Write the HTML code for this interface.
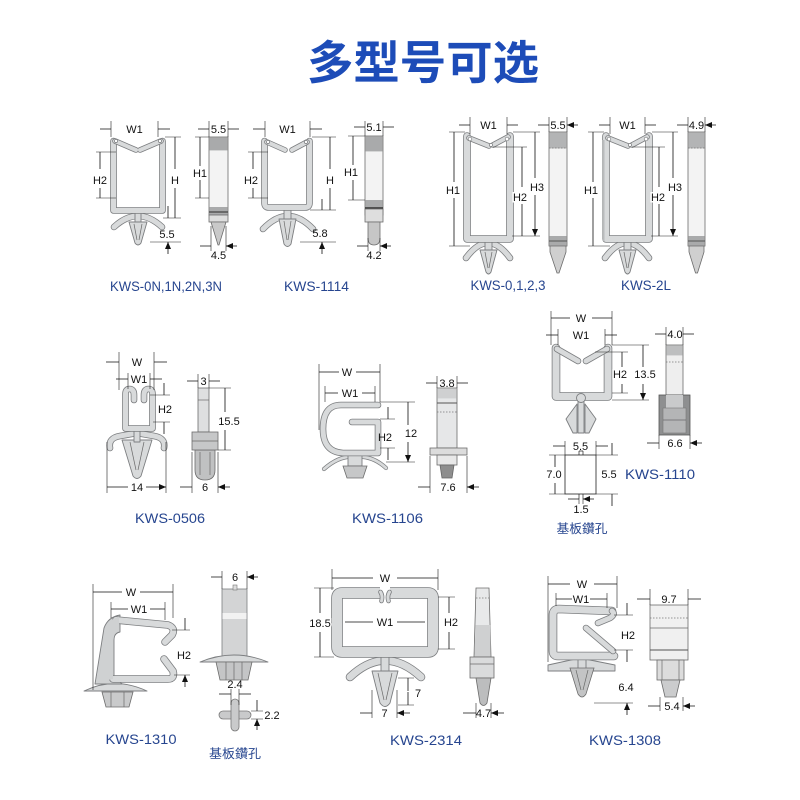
<!DOCTYPE html>
<html><head><meta charset="utf-8"><style>
html,body{margin:0;padding:0;background:#fff;}
svg{display:block}
.o{fill:none;stroke:#7c7e80;stroke-linejoin:round;stroke-linecap:round}
.f{fill:none;stroke:#d8dadb;stroke-linejoin:round;stroke-linecap:round}
.pf{fill:#d8dadb;stroke:#7c7e80;stroke-width:.9;stroke-linejoin:round}
.d{fill:none;stroke:#111;stroke-width:.8;marker-end:url(#m)}
.e{fill:none;stroke:#222;stroke-width:.6}
.t{font-family:"Liberation Sans",sans-serif;font-size:11px;fill:#111;text-anchor:middle}
.tw{paint-order:stroke;stroke:#fff;stroke-width:3px}
.lab{font-family:"Liberation Sans","Noto Sans CJK SC",sans-serif;font-size:14px;fill:#26458f;text-anchor:middle}
.ln{stroke:#6a6a6a;stroke-width:.7;fill:none}
.dot{stroke:#777;stroke-width:.7;stroke-dasharray:1.5 1.5;fill:none}
.sv{fill:#f3f3f3;stroke:#6c6c6c;stroke-width:.8}
</style></head><body>
<svg width="800" height="800" viewBox="0 0 800 800" xmlns="http://www.w3.org/2000/svg">
<defs>
<marker id="m" markerUnits="userSpaceOnUse" markerWidth="7" markerHeight="6" refX="7" refY="3" orient="auto"><path d="M0,0L7,3L0,6z" fill="#111"/></marker>
</defs>
<rect width="800" height="800" fill="#fff"/>

<!-- Title -->
<text x="423" y="79" style="font-family:'Noto Sans CJK SC','WenQuanYi Zen Hei',sans-serif;font-weight:bold;font-size:46px;fill:#1d4cb8;text-anchor:middle" textLength="232" lengthAdjust="spacingAndGlyphs">多型号可选</text>

<!-- ============ ROW 1 ============ -->
<!-- KWS-0N -->
<path class="o" stroke-width="6.6" d="M114,227Q138,205 162,227"/><path class="f" stroke-width="5" d="M114,227Q138,205 162,227"/>
<rect class="pf" x="135" y="211" width="6" height="12"/>
<path class="pf" d="M129,222L135,243Q138,247 141,243L147,222Z"/>
<path class="ln" d="M134,224L137,240M142,224L139,240"/>
<path class="o" stroke-width="6.6" d="M113.5,141V210.5H162.5V141"/><path class="f" stroke-width="5" d="M113.5,141V210.5H162.5V141"/>
<path class="o" stroke-width="5.6" d="M115,141L136,150M161,141L140,150"/><path class="f" stroke-width="4" d="M115,141L136,150M161,141L140,150"/>
<circle cx="116" cy="141" r="1.6" fill="#fff" stroke="#7c7e80" stroke-width=".7"/><circle cx="160" cy="141" r="1.6" fill="#fff" stroke="#7c7e80" stroke-width=".7"/>
<path class="e" d="M111,121V137M158,121V137M96,152H116M96,198H116M165,137H181M163,218H181M150,242H181"/>
<path class="d" d="M100,129H111M170,129H158M100,169V152M100,188V198M175,169V137M175,188V218M168,206V218M168,254V242"/>
<text class="t" x="134.5" y="133">W1</text><text class="t" x="100" y="184">H2</text><text class="t" x="175" y="184">H</text><text class="t" x="167" y="238">5.5</text>
<!-- side -->
<rect class="sv" x="209" y="137" width="19" height="78"/>
<rect x="209.4" y="137.4" width="18.2" height="13" fill="#a9aaab"/>
<rect x="209.4" y="207" width="18.2" height="8" fill="#a9aaab"/>
<path d="M209,212H228" stroke="#444" stroke-width="1.2"/>
<rect x="209" y="215" width="19" height="7" fill="#dedede" stroke="#6c6c6c" stroke-width=".8"/>
<path d="M211,222H226L219,245H218Z" fill="#c9c9c9" stroke="#6c6c6c" stroke-width=".8"/>
<path class="e" d="M209,121V137M228,121V137M195,137H209M195,198H209M211,226V251M226,226V251"/>
<path class="d" d="M198,129H209M239,129H228M200,166V137M200,180V198M200,246H211M237,246H226"/>
<text class="t" x="218.5" y="133">5.5</text><text class="t" x="200" y="177">H1</text><text class="t" x="218.5" y="259">4.5</text>

<!-- KWS-1114 -->
<path class="o" stroke-width="6.6" d="M263,229Q288,203 313,229"/><path class="f" stroke-width="5" d="M263,229Q288,203 313,229"/>
<rect class="pf" x="284" y="208" width="7" height="12"/>
<path class="pf" d="M279,219L284,244Q287.5,249 291,244L296,219Z"/>
<path class="ln" d="M284,221L287,240M291,221L288,240"/>
<path class="o" stroke-width="6.6" d="M264.5,141V203Q264.5,207.5 269,207.5H305Q309.5,207.5 309.5,203V141"/><path class="f" stroke-width="5" d="M264.5,141V203Q264.5,207.5 269,207.5H305Q309.5,207.5 309.5,203V141"/>
<path class="o" stroke-width="5.6" d="M267,142L285,150M307,142L292,150"/><path class="f" stroke-width="4" d="M267,142L285,150M307,142L292,150"/>
<circle cx="268" cy="142" r="1.6" fill="#fff" stroke="#7c7e80" stroke-width=".7"/><circle cx="306" cy="142" r="1.6" fill="#fff" stroke="#7c7e80" stroke-width=".7"/>
<path class="e" d="M265,121V137M310,121V137M248,152H268M248,198H268M312,137H336M310,210H336M300,242H336"/>
<path class="d" d="M253,129H265M322,129H310M253,169V152M253,188V198M330,169V137M330,188V210M322,199V210M322,254V242"/>
<text class="t" x="287.5" y="133">W1</text><text class="t" x="251" y="184">H2</text><text class="t" x="330" y="184">H</text><text class="t" x="320" y="237">5.8</text>
<!-- side -->
<rect class="sv" x="365" y="136" width="18" height="79"/>
<rect x="365.4" y="136.4" width="17.2" height="15" fill="#a9aaab"/>
<rect x="365.4" y="200" width="17.2" height="8" fill="#a9aaab"/>
<path d="M365,208H383" stroke="#333" stroke-width="1.4"/>
<rect x="365" y="209" width="18" height="13" fill="#dedede" stroke="#6c6c6c" stroke-width=".8"/>
<path d="M368,222V238Q368,245 374,245Q380,245 380,238V222Z" fill="#c6c6c6" stroke="#6c6c6c" stroke-width=".8"/>
<path class="e" d="M365,121V136M383,121V136M348,136H365M348,200H365M368,238V251M380,238V251"/>
<path class="d" d="M354,127H365M394,127H383M353,165V136M353,180V200M357,246H368M391,246H380"/>
<text class="t" x="374" y="131">5.1</text><text class="t" x="351" y="176">H1</text><text class="t" x="374" y="259">4.2</text>

<!-- KWS-0,1,2,3 -->
<path class="o" stroke-width="6.6" d="M466,258Q488,228 510,258"/><path class="f" stroke-width="5" d="M466,258Q488,228 510,258"/>
<rect class="pf" x="485" y="241" width="7" height="11"/>
<path class="pf" d="M480,250L486,272Q488.5,276 491,272L497,250Z"/>
<path class="ln" d="M485,252L488,268M492,252L489,268"/>
<path class="o" stroke-width="7.6" d="M467,136V239H510V136"/><path class="f" stroke-width="6" d="M467,136V239H510V136"/>
<path class="o" stroke-width="5.6" d="M469,138L489,146M508,137L493,145"/><path class="f" stroke-width="4" d="M469,138L489,146M508,137L493,145"/>
<circle cx="470" cy="139" r="1.8" fill="#fff" stroke="#7c7e80" stroke-width=".7"/><circle cx="507" cy="139" r="1.8" fill="#fff" stroke="#7c7e80" stroke-width=".7"/><circle cx="491" cy="145" r="1.6" fill="#fff" stroke="#7c7e80" stroke-width=".7"/>
<path class="e" d="M470,117V134M507,117V134M449,132H465M449,246H470M493,147H527M513,132H540M512,236H540"/>
<path class="d" d="M459,125H470M518,125H507M454,182V132M454,198V246M522,187V147M522,204V236M535,178V132M535,195V236"/>
<text class="t" x="488.5" y="129">W1</text><text class="t" x="453" y="194">H1</text><text class="t tw" x="520" y="201">H2</text><text class="t tw" x="537" y="191">H3</text>
<rect class="sv" x="549" y="132" width="18" height="114"/>
<rect x="549.4" y="132.4" width="17.2" height="16" fill="#b3b4b5"/>
<path class="dot" d="M549,148H567"/>
<rect x="549.4" y="236" width="17.2" height="10" fill="#a9aaab"/>
<path d="M549,241H567" stroke="#555" stroke-width="1"/>
<path d="M550,246V252L557,273H559L566,252V246Z" fill="#cfcfcf" stroke="#6c6c6c" stroke-width=".8"/>
<path class="e" d="M549,117V132M567,117V132"/>
<path class="d" d="M538,125H549M578,125H567"/>
<text class="t" x="558" y="129">5.5</text>

<!-- KWS-2L -->
<path class="o" stroke-width="6.6" d="M605,258Q627,228 649,258"/><path class="f" stroke-width="5" d="M605,258Q627,228 649,258"/>
<rect class="pf" x="624" y="241" width="7" height="11"/>
<path class="pf" d="M619,250L625,272Q627.5,276 630,272L636,250Z"/>
<path class="ln" d="M624,252L627,268M631,252L628,268"/>
<path class="o" stroke-width="7.6" d="M606,136V239H649V136"/><path class="f" stroke-width="6" d="M606,136V239H649V136"/>
<path d="M603.5,140V241" stroke="#b9bbbc" stroke-width="2"/>
<path class="o" stroke-width="5.6" d="M608,138L628,146M647,137L632,145"/><path class="f" stroke-width="4" d="M608,138L628,146M647,137L632,145"/>
<circle cx="609" cy="139" r="1.8" fill="#fff" stroke="#7c7e80" stroke-width=".7"/><circle cx="646" cy="139" r="1.8" fill="#fff" stroke="#7c7e80" stroke-width=".7"/><circle cx="630" cy="145" r="1.6" fill="#fff" stroke="#7c7e80" stroke-width=".7"/>
<path class="e" d="M610,117V134M645,117V134M588,132H604M588,246H610M632,147H665M652,132H678M651,236H678"/>
<path class="d" d="M599,125H610M656,125H645M593,182V132M593,198V246M659,187V147M659,204V236M673,178V132M673,195V236"/>
<text class="t" x="627.5" y="129">W1</text><text class="t" x="591" y="194">H1</text><text class="t tw" x="658" y="201">H2</text><text class="t tw" x="675" y="191">H3</text>
<rect class="sv" x="688" y="132" width="17" height="114"/>
<rect x="688.4" y="132.4" width="16.2" height="16" fill="#b3b4b5"/>
<path class="dot" d="M688,148H705"/>
<rect x="688.4" y="236" width="16.2" height="10" fill="#a9aaab"/>
<path d="M688,241H705" stroke="#555" stroke-width="1"/>
<path d="M689,246V252L695.5,273H697.5L704,252V246Z" fill="#cfcfcf" stroke="#6c6c6c" stroke-width=".8"/>
<path class="e" d="M688,117V132M705,117V132"/>
<path class="d" d="M677,125H688M716,125H705"/>
<text class="t" x="696.5" y="129">4.9</text>

<text class="lab" x="166" y="291" textLength="112" lengthAdjust="spacingAndGlyphs">KWS-0N,1N,2N,3N</text>
<text class="lab" x="316.5" y="291" textLength="65" lengthAdjust="spacingAndGlyphs">KWS-1114</text>
<text class="lab" x="508" y="290" textLength="75" lengthAdjust="spacingAndGlyphs">KWS-0,1,2,3</text>
<text class="lab" x="646" y="290" textLength="50" lengthAdjust="spacingAndGlyphs">KWS-2L</text>

<!-- ============ ROW 2 ============ -->
<!-- KWS-0506 -->
<path class="o" stroke-width="6.6" d="M110,448Q108,438 120,436L137,433L154,436Q166,438 164,448"/><path class="f" stroke-width="5" d="M110,448Q108,438 120,436L137,433L154,436Q166,438 164,448"/>
<path class="pf" d="M122,440L133,476Q137,481 141,476L152,440Z"/>
<path class="ln" d="M130,442L136,470M144,442L138,470"/>
<rect class="pf" x="134" y="426" width="6" height="16"/>
<path class="o" stroke-width="6.6" d="M134,400V395Q134,389 129.5,389Q125.5,389 125.5,394V428.5H152.5V394Q152.5,389 148.5,389Q144,389 144,395V400"/><path class="f" stroke-width="5" d="M134,400V395Q134,389 129.5,389Q125.5,389 125.5,394V428.5H152.5V394Q152.5,389 148.5,389Q144,389 144,395V400"/>
<path class="e" d="M119,352V390M154,352V390M128,373V389M150,373V389M150,395H170M153,422H170M107,442V493M166,442V493"/>
<path class="d" d="M106,362H119M167,362H154M116,379H128M162,379H150M164,383V395M164,434V422M128,487H107M146,487H166"/>
<text class="t" x="137" y="366">W</text><text class="t" x="139" y="383">W1</text><text class="t" x="165" y="413">H2</text><text class="t" x="137" y="491">14</text>
<rect x="198" y="388" width="11" height="44" fill="#dedfe0" stroke="#6c6c6c" stroke-width=".8"/>
<path class="ln" d="M198,400H209"/>
<path d="M195,450V470Q195,480 205,480Q215,480 215,470V450Z" fill="#c0c1c2" stroke="#6c6c6c" stroke-width=".8"/>
<path class="ln" d="M200,452V475M210,452V475"/>
<rect x="192" y="432" width="26" height="18" fill="#c6c7c8" stroke="#6c6c6c" stroke-width=".8"/>
<path class="ln" d="M192,441H218"/>
<path class="e" d="M198,374V388M209,374V388M209,388H231M218,450H231M192,452V493M218,452V493"/>
<path class="d" d="M187,381H198M220,381H209M225,412V388M225,430V450M180,487H192M230,487H218"/>
<text class="t" x="203.5" y="385">3</text><text class="t tw" x="229" y="425">15.5</text><text class="t" x="205" y="491">6</text>

<!-- KWS-1106 -->
<path class="o" stroke-width="4.2" d="M324,469Q340,455 355,457Q372,455 386,468"/><path class="f" stroke-width="2.8" d="M324,469Q340,455 355,457Q372,455 386,468"/>
<rect class="pf" x="348" y="455" width="14" height="11"/>
<path d="M343,466H367L363,478H347Z" fill="#c6c7c8" stroke="#6c6c6c" stroke-width=".8"/>
<path class="o" stroke-width="6.6" d="M378,405H341Q323,405 323,429Q323,452 343,453H378V422H352"/><path class="f" stroke-width="5" d="M378,405H341Q323,405 323,429Q323,452 343,453H378V422H352"/>
<path class="e" d="M319,364V430M380,364V402M325,386V402M375,386V402M380,419H395M380,448H395M380,402H415M386,462H415"/>
<path class="d" d="M339,372H319M356,372H380M338,393H325M362,393H375M388,407V419M388,460V448M408,425V402M408,442V462"/>
<text class="t" x="347" y="376">W</text><text class="t" x="350" y="397">W1</text><text class="t" x="385" y="441">H2</text><text class="t" x="411" y="437">12</text>
<rect x="437" y="388" width="20" height="60" fill="#e6e7e8" stroke="#6c6c6c" stroke-width=".8"/>
<rect x="437.4" y="388.4" width="19.2" height="10" fill="#cfd0d1"/>
<path d="M437,403H457" stroke="#555" stroke-width="1"/><path class="dot" d="M437,412H457"/>
<rect x="430" y="448" width="37" height="7" fill="#dcdcdc" stroke="#6c6c6c" stroke-width=".8"/>
<rect x="437" y="455" width="20" height="10" fill="#e8e8e8" stroke="#6c6c6c" stroke-width=".8"/>
<path d="M440,465H454L452,478H442Z" fill="#8e8e8e" stroke="#666" stroke-width=".8"/>
<path class="e" d="M437,376V388M457,376V388M430,456V493M467,456V493"/>
<path class="d" d="M426,383H437M468,383H457M418,487H430M479,487H467"/>
<text class="t" x="447" y="387">3.8</text><text class="t" x="448" y="491">7.6</text>

<!-- KWS-1110 -->
<path class="pf" d="M577,404L566,419L573,433L577,433Z"/>
<path class="pf" d="M585,404L596,419L589,433L585,433Z"/>
<path class="o" stroke-width="8.6" d="M556,348V396.5H608V348"/><path class="f" stroke-width="7" d="M556,348V396.5H608V348"/>
<path class="o" stroke-width="6.6" d="M557,349L578,361M607,349L586,361"/><path class="f" stroke-width="5" d="M557,349L578,361M607,349L586,361"/>
<rect class="pf" x="578" y="400" width="6" height="33"/>
<circle class="pf" cx="581" cy="398" r="4.5"/>
<path class="e" d="M551,311V345M612,311V345M558,329V345M605,329V345M595,352H628M612,393H628M612,345H649M612,400H649"/>
<path class="d" d="M570,318H551M592,318H612M546,335H558M617,335H605M622,367V352M622,384V393M643,367V345M643,384V400"/>
<text class="t" x="581" y="322">W</text><text class="t" x="581" y="339">W1</text><text class="t tw" x="620" y="378">H2</text><text class="t tw" x="645" y="378">13.5</text>
<rect x="666" y="345" width="17" height="50" fill="#eeeeee" stroke="#6c6c6c" stroke-width=".8"/>
<rect x="666.4" y="345.4" width="16.2" height="10" fill="#bdbebf"/>
<path class="dot" d="M666,362H683"/>
<rect x="659" y="395" width="31" height="40" fill="#8e8f90" stroke="#555" stroke-width=".8"/>
<rect x="666" y="395" width="17" height="13" fill="#c9cacb"/>
<rect x="663" y="408" width="23" height="25" fill="#b4b5b6" stroke="#777" stroke-width=".6"/>
<path class="ln" d="M663,420H686"/>
<path class="e" d="M666,327V345M683,327V345M659,435V449M690,435V449"/>
<path class="d" d="M655,334H666M694,334H683M647,443H659M702,443H690"/>
<text class="t" x="675" y="338">4.0</text><text class="t" x="675" y="447">6.6</text>
<!-- hole -->
<rect x="565" y="455" width="31" height="39" fill="#fff" stroke="#222" stroke-width=".8"/>
<path d="M579,451V455M583,451V455M579,451H583M579,494V499M583,494V499" stroke="#222" stroke-width=".7" fill="none"/>
<path class="e" d="M565,441V455M596,441V455M549,455H565M549,494H565M596,455H618M596,494H618M579,499V504M583,499V504"/>
<path class="d" d="M553,446H565M608,446H596M555,467V455M555,483V494M612,443V455M612,506V494M568,499H579M594,499H583"/>
<text class="t" x="580.5" y="450">5.5</text><text class="t tw" x="554" y="478">7.0</text><text class="t" x="609" y="478">5.5</text><text class="t" x="581" y="513">1.5</text>
<text class="lab" x="660" y="479" textLength="70" lengthAdjust="spacingAndGlyphs">KWS-1110</text>
<text class="lab" x="582" y="533" style="font-size:12.5px" textLength="51" lengthAdjust="spacingAndGlyphs">基板鑽孔</text>

<text class="lab" x="170" y="523" textLength="70" lengthAdjust="spacingAndGlyphs">KWS-0506</text>
<text class="lab" x="387.5" y="523" textLength="71" lengthAdjust="spacingAndGlyphs">KWS-1106</text>

<!-- ============ ROW 3 ============ -->
<!-- KWS-1310 -->
<path class="pf" d="M84,691Q115,676 147,691Z"/>
<path d="M102,692H133L129,707H106Z" fill="#c9cacb" stroke="#6c6c6c" stroke-width=".8"/>
<path class="ln" d="M111,692V707M124,692V707"/>
<path class="pf" d="M95,684L104,628Q108,617 120,615L120,632Q114,633 114,640L114,676L122,684Z" style="fill:#cfd1d2"/>
<path class="o" stroke-width="7.6" d="M116,620L168,625Q176,628 172,635L165,642"/><path class="f" stroke-width="6" d="M116,620L168,625Q176,628 172,635L165,642"/>
<path class="o" stroke-width="7.6" d="M113,679H168Q175,679 173,671L164,659"/><path class="f" stroke-width="6" d="M113,679H168Q175,679 173,671L164,659"/>
<path d="M96,682L105,628Q109,619 119,617L119,631Q113,632 113,640L113,679Z" fill="#cfd1d2"/>
<path class="e" d="M93,584V690M173,584V618M111,602V618M165,602V620M172,630H190M174,675H190"/>
<path class="d" d="M122,592H93M140,592H173M128,609H111M150,609H165M185,618V630M185,687V675"/>
<text class="t" x="131" y="596">W</text><text class="t" x="139" y="613">W1</text><text class="t" x="184" y="659">H2</text>
<rect x="222" y="589" width="25" height="68" fill="#d3d4d5" stroke="#7c7e80" stroke-width=".8"/>
<rect x="222.4" y="613" width="24.2" height="6" fill="#f2f2f2"/>
<rect x="233" y="585" width="4" height="5" fill="#ddd" stroke="#777" stroke-width=".6"/>
<path class="pf" d="M200,662Q234,648 268,662Z"/>
<path d="M216,662H252L248,680H220Z" fill="#c4c5c6" stroke="#6c6c6c" stroke-width=".8"/>
<path class="ln" d="M226,662V680M234,662V680M242,662V680"/>
<path class="e" d="M222,571V589M247,571V589"/>
<path class="d" d="M211,577H222M258,577H247"/>
<text class="t" x="235" y="581">6</text>
<rect x="219" y="711" width="32" height="8" rx="4" fill="#c9cacb" stroke="#777" stroke-width=".8"/>
<rect x="231" y="699" width="8" height="32" rx="4" fill="#c9cacb" stroke="#777" stroke-width=".8"/>
<rect x="231.5" y="711.5" width="7" height="7" fill="#c9cacb"/>
<path class="e" d="M231,689V705M239,689V705M251,711H263M251,719H263"/>
<path class="d" d="M219,694H231M251,694H239M257,700V711M257,730V719"/>
<text class="t" x="235" y="688">2.4</text><text class="t" x="272" y="719">2.2</text>
<text class="lab" x="141" y="744" textLength="71" lengthAdjust="spacingAndGlyphs">KWS-1310</text>
<text class="lab" x="235" y="758" style="font-size:12.5px" textLength="52" lengthAdjust="spacingAndGlyphs">基板鑽孔</text>

<!-- KWS-2314 -->
<path class="o" stroke-width="8.6" d="M350,677Q385,644 421,677"/><path class="f" stroke-width="7" d="M350,677Q385,644 421,677"/>
<rect class="pf" x="381" y="655" width="8" height="18"/>
<path class="pf" d="M372,671L380,703Q385,710 390,703L398,671Z"/>
<path class="ln" d="M378,673L384,700M392,673L386,700"/>
<path class="o" stroke-width="11.6" style="stroke-linecap:butt" d="M380,593H342Q337,593 337,598V647Q337,652 342,652H428Q433,652 433,647V598Q433,593 428,593H390"/>
<path class="f" stroke-width="10" style="stroke-linecap:butt" d="M380,593H342Q337,593 337,598V647Q337,652 342,652H428Q433,652 433,647V598Q433,593 428,593H390"/>
<path class="o" stroke-width="4.6" d="M380.5,592Q383,596 381.5,601M389.5,592Q387,596 388.5,601"/><path class="f" stroke-width="3" d="M380.5,592Q383,596 381.5,601M389.5,592Q387,596 388.5,601"/>
<path class="e" d="M332,569V590M438,569V590M314,588H334M314,657H334M438,597H455M438,649H455M398,678H414M398,705H414M372,690V718M397,690V718"/>
<path class="d" d="M373,578H332M397,578H438M320,613V588M320,632V657M373,622H345M397,622H425M449,613V597M449,632V649M408,691V678M408,692V705M360,713H372M410,713H397"/>
<text class="t" x="385" y="582">W</text><text class="t tw" x="320" y="627">18.5</text><text class="t" x="385" y="626">W1</text><text class="t" x="451" y="626">H2</text><text class="t" x="418" y="697">7</text><text class="t" x="384.5" y="717">7</text>
<path d="M476,588H489L491,657H474Z" fill="#e8e9ea" stroke="#6c6c6c" stroke-width=".8"/>
<path d="M475.6,625H490.2L490.6,656.6H474.4Z" fill="#cfd0d1"/>
<path class="dot" d="M476,598H489"/>
<rect x="470" y="657" width="24" height="21" fill="#dadbdc" stroke="#6c6c6c" stroke-width=".8"/>
<path class="ln" d="M470,664H494"/>
<path d="M476,678L480,703Q483.5,708 487,703L491,678Z" fill="#bcbdbe" stroke="#6c6c6c" stroke-width=".8"/>
<path class="e" d="M476,703V718M491,703V718"/>
<path class="d" d="M463,713H476M504,713H491"/>
<text class="t" x="483.5" y="717">4.7</text>
<text class="lab" x="426" y="745" textLength="72" lengthAdjust="spacingAndGlyphs">KWS-2314</text>

<!-- KWS-1308 -->
<path class="pf" d="M548,665L580,658L615,665V671H548Z"/>
<rect class="pf" x="578" y="658" width="8" height="14"/>
<path d="M570,668L578,694Q582,700 586,694L594,668Z" fill="#c3c4c5" stroke="#6c6c6c" stroke-width=".8"/>
<path class="ln" d="M576,670L581,690M588,670L583,690"/>
<path class="o" stroke-width="8.6" d="M612,611L559,609Q553,609 553,615V651Q553,656 558,656H614"/><path class="f" stroke-width="7" d="M612,611L559,609Q553,609 553,615V651Q553,656 558,656H614"/>
<path class="o" stroke-width="6.6" d="M612,611Q616,614 610,618L598,623M586,628L613,651"/><path class="f" stroke-width="5" d="M612,611Q616,614 610,618L598,623M586,628L613,651"/>
<path class="e" d="M548,576V662M617,576V608M556,593V606M607,593V608M614,615H633M614,650H633M594,703H633"/>
<path class="d" d="M570,584H548M594,584H617M572,599H556M590,599H607M627,603V615M627,662V650M627,715V703"/>
<text class="t" x="582" y="588">W</text><text class="t" x="581" y="603">W1</text><text class="t" x="628" y="639">H2</text><text class="t" x="626" y="691">6.4</text>
<rect x="650" y="605" width="38" height="55" fill="#f0f0f0" stroke="#6c6c6c" stroke-width=".8"/>
<path class="dot" d="M650,618H688"/><path class="ln" d="M650,628H688"/><path d="M650,650H688" stroke="#555" stroke-width=".9"/>
<rect x="657" y="660" width="27" height="20" fill="#dcdcdc" stroke="#6c6c6c" stroke-width=".8"/>
<path class="ln" d="M662,660V680M679,660V680"/>
<path d="M661,680H680L676,697H665Z" fill="#cbcccd" stroke="#6c6c6c" stroke-width=".8"/>
<path class="e" d="M650,589V605M688,589V605M660,697V711M683,697V711"/>
<path class="d" d="M637,599H650M701,599H688M648,706H660M695,706H683"/>
<text class="t" x="669" y="603">9.7</text><text class="t" x="672" y="710">5.4</text>
<text class="lab" x="625" y="745" textLength="72" lengthAdjust="spacingAndGlyphs">KWS-1308</text>
</svg>
</body></html>
